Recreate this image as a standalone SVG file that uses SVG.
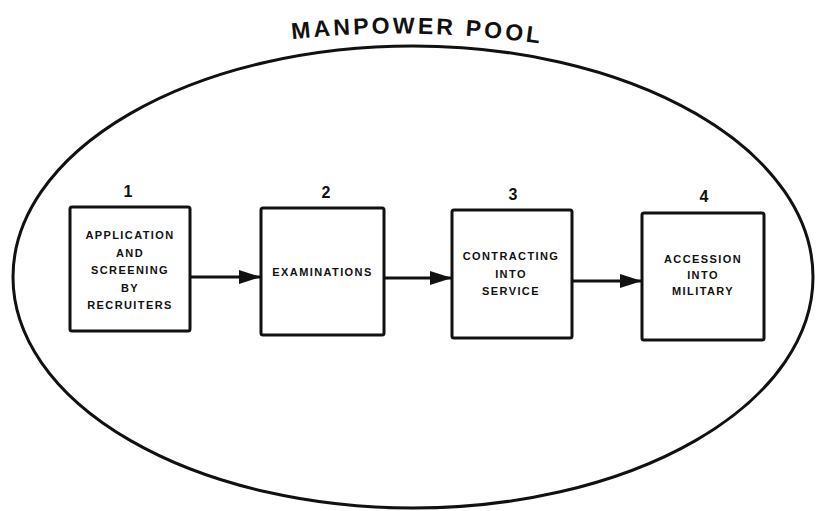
<svg xmlns="http://www.w3.org/2000/svg" width="816" height="511" viewBox="0 0 816 511">
  <style>
    .pool { fill: none; stroke: #111; stroke-width: 3; }
    .box { fill: #fff; stroke: #111; stroke-width: 3; }
    .lbl { font-family: "Liberation Sans", Arial, sans-serif; font-weight: bold; font-size: 11px; letter-spacing: 1.4px; fill: #111; text-anchor: middle; }
    .num { font-family: "Liberation Sans", Arial, sans-serif; font-weight: bold; font-size: 16px; fill: #111; text-anchor: middle; }
    .title { font-family: "Liberation Sans", Arial, sans-serif; font-weight: bold; font-size: 23px; fill: #111; }
    .link { fill: none; stroke: #111; stroke-width: 3; }
  </style>
  <defs>
    <marker id="head" markerUnits="userSpaceOnUse" markerWidth="24" markerHeight="16" refX="22" refY="8" orient="auto">
      <path d="M0,1 L22,8 L0,15 Z" fill="#111"/>
    </marker>
    <path id="titleArc" d="M 286 40 Q 414 25 550 45"/>
  </defs>

  <rect width="816" height="511" fill="#fff"/>

  <!-- surrounding pool -->
  <g id="pool">
    <ellipse class="pool" cx="413" cy="277" rx="400" ry="231"/>
    <text class="title"><textPath href="#titleArc" startOffset="6" textLength="248" lengthAdjust="spacing">MANPOWER POOL</textPath></text>
  </g>

  <!-- connectors -->
  <g id="connectors">
    <line class="link" x1="190" y1="277" x2="261" y2="277" marker-end="url(#head)"/>
    <line class="link" x1="384" y1="278" x2="452" y2="278" marker-end="url(#head)"/>
    <line class="link" x1="572" y1="281" x2="642" y2="281" marker-end="url(#head)"/>
  </g>

  <g id="step1">
    <text class="num" x="128" y="197">1</text>
    <rect class="box" x="70" y="207" width="120" height="124" rx="2"/>
    <text class="lbl" x="130" y="239">APPLICATION</text>
    <text class="lbl" x="130" y="256.5">AND</text>
    <text class="lbl" x="130" y="274">SCREENING</text>
    <text class="lbl" x="130" y="291.5">BY</text>
    <text class="lbl" x="130" y="309">RECRUITERS</text>
  </g>

  <g id="step2">
    <text class="num" x="326" y="198">2</text>
    <rect class="box" x="261" y="208" width="123" height="127" rx="2"/>
    <text class="lbl" x="322.5" y="276">EXAMINATIONS</text>
  </g>

  <g id="step3">
    <text class="num" x="513" y="200">3</text>
    <rect class="box" x="452" y="210" width="120" height="128" rx="2"/>
    <text class="lbl" x="511" y="260">CONTRACTING</text>
    <text class="lbl" x="511" y="278">INTO</text>
    <text class="lbl" x="511" y="295">SERVICE</text>
  </g>

  <g id="step4">
    <text class="num" x="704" y="202">4</text>
    <rect class="box" x="642" y="213" width="122" height="127" rx="2"/>
    <text class="lbl" x="703" y="263">ACCESSION</text>
    <text class="lbl" x="703" y="279">INTO</text>
    <text class="lbl" x="703" y="295">MILITARY</text>
  </g>
</svg>
